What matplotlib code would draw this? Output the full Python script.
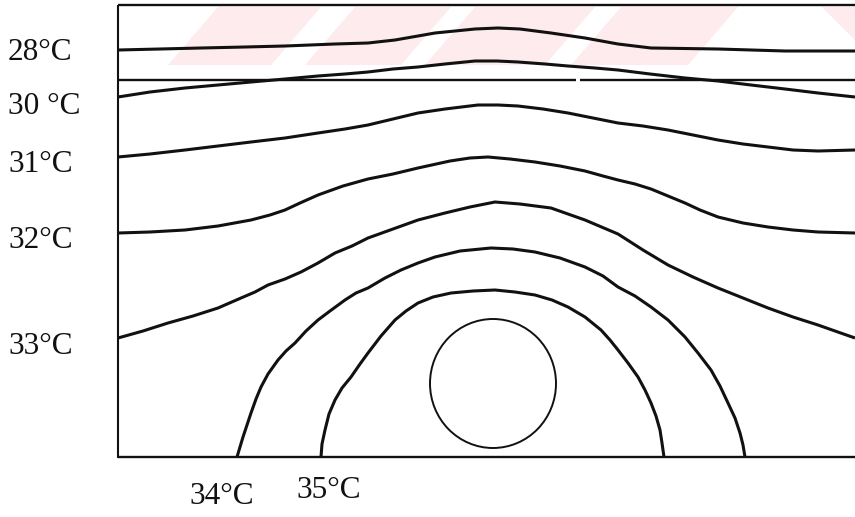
import matplotlib.pyplot as plt
from matplotlib.patches import Ellipse, Polygon

# Isotherms across the section, traced as (x, y) in drawing units (y grows downward)
iso_28 = [(118, 50), (160, 49), (201, 48), (245, 47), (285, 46), (335, 44), (368, 43),
          (395, 40), (418, 36), (435, 33), (455, 31), (475, 29), (498, 28), (520, 29),
          (551, 33), (585, 38), (618, 44), (651, 48), (718, 49), (785, 51), (855, 51)]
iso_29 = [(118, 97), (150, 92), (185, 88), (218, 85), (251, 82), (285, 79), (318, 76),
          (345, 74), (368, 72), (393, 69), (418, 67), (445, 64), (475, 61), (497, 61),
          (518, 62), (545, 64), (568, 66), (595, 68), (618, 70), (650, 74), (685, 78),
          (718, 81), (751, 85), (785, 89), (818, 93), (855, 97)]
iso_31 = [(118, 157), (150, 154), (185, 150), (218, 146), (251, 142), (285, 138),
          (318, 133), (345, 129), (368, 125), (393, 119), (418, 113), (445, 109),
          (478, 105), (498, 105), (518, 106), (543, 109), (568, 113), (593, 118),
          (618, 123), (643, 126), (668, 130), (693, 135), (718, 140), (743, 144),
          (768, 147), (793, 150), (818, 151), (855, 150)]
iso_32 = [(118, 233), (150, 232), (185, 230), (218, 226), (251, 220), (270, 215),
          (285, 210), (300, 203), (318, 195), (343, 186), (368, 179), (393, 174),
          (418, 168), (450, 161), (470, 158), (488, 157), (510, 159), (535, 162),
          (560, 166), (585, 171), (603, 176), (618, 180), (635, 184), (651, 189),
          (668, 196), (685, 203), (700, 210), (718, 217), (743, 223), (768, 227),
          (793, 230), (818, 232), (855, 233)]
iso_33 = [(118, 338), (143, 331), (168, 323), (193, 316), (218, 308), (241, 298),
          (255, 292), (268, 285), (285, 279), (301, 272), (318, 263), (335, 253),
          (352, 246), (368, 238), (393, 229), (418, 220), (445, 213), (470, 207),
          (495, 202), (520, 204), (551, 208), (585, 220), (618, 234), (643, 250),
          (668, 265), (693, 277), (718, 288), (743, 298), (768, 308), (793, 317),
          (818, 325), (835, 331), (855, 338)]
iso_34 = [(237, 457), (240, 447), (243, 437), (247, 425), (251, 413), (256, 399),
          (261, 387), (268, 374), (278, 360), (286, 351), (295, 343), (306, 331),
          (318, 320), (330, 311), (345, 300), (356, 293), (368, 288), (385, 278),
          (401, 270), (418, 263), (435, 257), (460, 251), (491, 248), (513, 249),
          (535, 252), (560, 258), (585, 267), (603, 276), (618, 287), (635, 296),
          (651, 307), (668, 320), (685, 337), (698, 353), (711, 370), (720, 386),
          (728, 403), (735, 418), (740, 433), (743, 445), (745, 457)]
iso_35 = [(321, 457), (322, 444), (325, 430), (329, 414), (335, 400), (342, 388),
          (351, 377), (360, 364), (368, 353), (381, 336), (395, 320), (406, 311),
          (418, 303), (433, 297), (451, 293), (473, 291), (495, 290), (515, 292),
          (535, 295), (552, 300), (568, 307), (585, 317), (601, 330), (610, 340),
          (618, 350), (628, 363), (638, 377), (645, 390), (651, 403), (656, 416),
          (660, 430), (662, 443), (664, 457)]

# straight reference line, drawn in two pieces (small break near x=578)
level_line = [[(118, 80), (576, 80)], [(580, 80), (855, 80)]]

# heat source: centre and diameters
source_xy = (493, 383.5)
source_w, source_h = 126, 129

labels = ["28°C", "30 °C", "31°C", "32°C", "33°C", "34°C", "35°C"]
label_xy = [(8, 52), (8, 107), (8, 165), (8, 240), (8, 346), (189, 497), (296, 490)]

# faint diagonal stripes at the top: (bottom left, bottom right) of each band
stripe_bottoms = [(168, 271), (305, 401), (425, 545), (571, 688)]
stripe_shift = 50

fig = plt.figure(figsize=(8.55, 5.17), dpi=100)
ax = fig.add_axes([0, 0, 1, 1])
ax.set_xlim(0, 855)
ax.set_ylim(517, 0)
ax.axis('off')

pink = '#fdebee'
for x0, x1 in stripe_bottoms:
    ax.add_patch(Polygon([(x0, 65), (x1, 65), (x1 + stripe_shift, 7), (x0 + stripe_shift, 7)],
                         closed=True, facecolor=pink, edgecolor='none', zorder=0))
ax.add_patch(Polygon([(822, 7), (855, 7), (855, 40)], closed=True,
                     facecolor=pink, edgecolor='none', zorder=0))

ink = '#111111'
# frame: left, top, bottom
ax.plot([118, 118], [5, 458], color=ink, lw=1.5, solid_capstyle='butt')
ax.plot([118, 855], [5, 5], color=ink, lw=1.7, solid_capstyle='butt')
ax.plot([118, 855], [457, 457], color=ink, lw=1.7, solid_capstyle='butt')

for seg in level_line:
    xs, ys = zip(*seg)
    ax.plot(xs, ys, color=ink, lw=1.7, solid_capstyle='butt')

for curve in [iso_28, iso_29, iso_31, iso_32, iso_33, iso_34, iso_35]:
    xs, ys = zip(*curve)
    ax.plot(xs, ys, color=ink, lw=2.2, solid_joinstyle='round', solid_capstyle='butt')

ax.add_patch(Ellipse(source_xy, source_w, source_h, fill=False, edgecolor=ink, lw=1.4))

for txt, (x, y) in zip(labels, label_xy):
    ax.text(x, y, txt, fontsize=22.5, family='Liberation Serif', color=ink,
            ha='left', va='center')

fig.savefig('out.png', dpi=100)
